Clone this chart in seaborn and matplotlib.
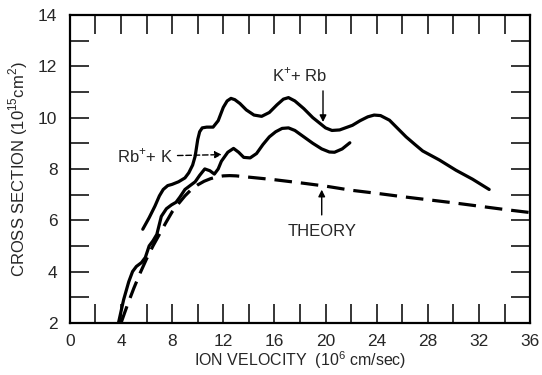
import numpy as np
import pandas as pd
import matplotlib
matplotlib.use("Agg")
import matplotlib.pyplot as plt
from matplotlib.ticker import MultipleLocator
import seaborn as sns

# ── data ─────────────────────────────────────────────────────────────────────
k_rb_x = [5.7, 6.2, 6.65, 7.0, 7.3, 7.65, 8.0, 8.5, 9.0, 9.3, 9.6, 9.8, 10.0,
          10.15, 10.35, 10.7, 11.2, 11.6, 12.0, 12.3, 12.6, 12.9, 13.3, 13.8,
          14.4, 15.0, 15.6, 16.2, 16.7, 17.1, 17.6, 18.3, 19.0, 19.7, 20.0,
          20.5, 21.1, 22.1, 22.7, 23.3, 23.8, 24.3, 25.0, 25.6, 26.3, 27.0,
          27.6, 28.9, 30.2, 31.5, 32.8]
k_rb_y = [5.65, 6.1, 6.55, 6.95, 7.2, 7.35, 7.4, 7.5, 7.65, 7.85, 8.15, 8.5,
          9.15, 9.45, 9.6, 9.63, 9.63, 9.88, 10.4, 10.65, 10.75, 10.7, 10.55,
          10.3, 10.1, 10.05, 10.2, 10.5, 10.72, 10.78, 10.65, 10.35, 10.0,
          9.72, 9.6, 9.5, 9.52, 9.7, 9.88, 10.03, 10.1, 10.08, 9.9, 9.6, 9.25,
          8.95, 8.7, 8.35, 7.95, 7.6, 7.2]

rb_k_x = [3.8, 4.2, 4.6, 4.9, 5.2, 5.6, 5.9, 6.2, 6.5, 6.8, 7.15, 7.55, 7.95,
          8.3, 8.6, 9.0, 9.4, 9.8, 10.15, 10.55, 10.95, 11.3, 11.6, 11.85,
          12.35, 12.8, 13.2, 13.6, 14.1, 14.6, 15.1, 15.6, 16.1, 16.6, 17.1,
          17.6, 18.3, 19.0, 19.7, 20.3, 20.7, 21.3, 21.9]
rb_k_y = [2.0, 2.9, 3.6, 4.0, 4.2, 4.35, 4.55, 5.0, 5.2, 5.45, 6.15, 6.45,
          6.6, 6.7, 6.9, 7.2, 7.35, 7.5, 7.75, 8.0, 7.93, 7.8, 8.0, 8.3, 8.65,
          8.8, 8.65, 8.45, 8.43, 8.6, 8.95, 9.25, 9.45, 9.58, 9.6, 9.5, 9.25,
          9.0, 8.78, 8.66, 8.65, 8.78, 9.02]

theory_x = [4.0, 4.5, 5.0, 5.5, 6.0, 6.5, 7.0, 7.5, 8.0, 8.5, 9.0, 9.5, 10.0,
            10.5, 11.0, 11.5, 12.0, 12.5, 13.0, 14.0, 15.0, 16.0, 17.0, 18.0,
            20.0, 22.0, 24.0, 26.0, 28.0, 30.0, 32.0, 34.0, 36.0]
theory_y = [2.0, 2.7, 3.35, 3.95, 4.5, 5.0, 5.45, 5.9, 6.33, 6.65, 6.95, 7.2,
            7.38, 7.52, 7.62, 7.69, 7.73, 7.74, 7.73, 7.68, 7.63, 7.58, 7.52,
            7.46, 7.33, 7.17, 7.05, 6.92, 6.8, 6.68, 6.55, 6.42, 6.3]

x_ticks = [0, 4, 8, 12, 16, 20, 24, 28, 32, 36]
y_ticks = [2, 4, 6, 8, 10, 12, 14]

# ── style ─────────────────────────────────────────────────────────────────────
sns.set_style("ticks")
plt.rcParams["font.family"] = ["Liberation Sans", "DejaVu Sans"]
plt.rcParams["mathtext.fontset"] = "custom"
plt.rcParams["mathtext.rm"] = "Liberation Sans"

fig = plt.figure(figsize=(5.42, 3.75), dpi=100)
ax = fig.add_axes([0.129, 0.139, 0.849, 0.821])

LW = 2.3
line_kw = dict(color="black", lw=LW, solid_capstyle="round",
               solid_joinstyle="round")
sns.lineplot(x=k_rb_x, y=k_rb_y, ax=ax, **line_kw)
sns.lineplot(x=rb_k_x, y=rb_k_y, ax=ax, **line_kw)
sns.lineplot(x=theory_x, y=theory_y, ax=ax, color="black", lw=LW,
             linestyle=(0, (5.5, 2.8)))

ax.set_xlim(0, 36)
ax.set_ylim(2, 14)
ax.set_xticks(x_ticks)
ax.set_yticks(y_ticks)
ax.xaxis.set_minor_locator(MultipleLocator(2))
ax.yaxis.set_minor_locator(MultipleLocator(1))
ax.tick_params(which="both", direction="in", length=14, width=1.1,
               top=True, right=True, color="black")
ax.tick_params(axis="x", which="major", pad=8, labelsize=12.5)
ax.tick_params(axis="y", which="major", pad=9, labelsize=12.5)
for s in ax.spines.values():
    s.set_linewidth(1.6)
    s.set_color("black")

ax.set_xlabel("ION VELOCITY  (10$^{6}$ cm/sec)", fontsize=11.5, labelpad=0)
ax.set_ylabel("CROSS SECTION (10$^{15}$cm$^{2}$)", fontsize=12, labelpad=6)

# ── annotations ───────────────────────────────────────────────────────────────
ax.text(18.0, 11.65, "K$^{+}$+ Rb", ha="center", va="center", fontsize=12)
ax.annotate("", xy=(19.8, 9.72), xytext=(19.8, 11.15),
            arrowprops=dict(arrowstyle="-|>", color="black", lw=1,
                            mutation_scale=10))
ax.text(8.1, 8.52, "Rb$^{+}$+ K", ha="right", va="center", fontsize=12)
ax.annotate("", xy=(12.1, 8.56), xytext=(8.2, 8.52),
            arrowprops=dict(arrowstyle="-|>", color="black", lw=1,
                            linestyle=(0, (4, 2)), mutation_scale=10))
ax.text(19.7, 5.57, "THEORY", ha="center", va="center", fontsize=12)
ax.annotate("", xy=(19.7, 7.3), xytext=(19.7, 6.1),
            arrowprops=dict(arrowstyle="-|>", color="black", lw=1,
                            mutation_scale=10))

fig.savefig("out.png", dpi=100)
print("Saved out.png")
